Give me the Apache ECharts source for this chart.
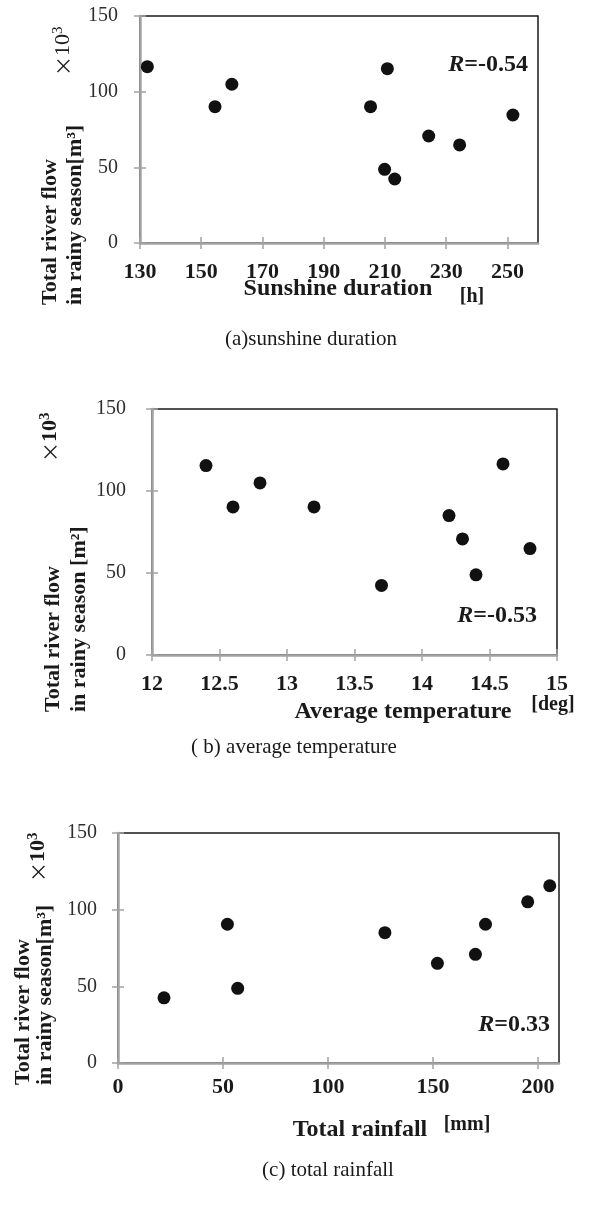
<!DOCTYPE html>
<html><head><meta charset="utf-8">
<script src="https://cdn.jsdelivr.net/npm/echarts@6/dist/echarts.min.js"></script>
<style>html,body{margin:0;padding:0;background:#fff}#c{width:597px;height:1207px}</style>
</head><body><div id="c"></div>
<script>
// Data
const flowTicks = [0, 50, 100, 150];
const sunTicks = [130, 150, 170, 190, 210, 230, 250];
const sunX = [132.4, 154.5, 160.0, 205.3, 209.9, 210.8, 213.2, 224.3, 234.4, 251.8];
const sunY = [116.5, 90.1, 104.9, 90.1, 48.7, 115.2, 42.3, 70.7, 64.8, 84.6];
const tempTicks = [12, 12.5, 13, 13.5, 14, 14.5, 15];
const tempX = [12.4, 12.6, 12.8, 13.2, 13.7, 14.2, 14.3, 14.4, 14.6, 14.8];
const tempY = [115.5, 90.3, 104.9, 90.3, 42.4, 85.0, 70.8, 48.9, 116.5, 64.9];
const rainTicks = [0, 50, 100, 150, 200];
const rainX = [21.9, 52.1, 57.0, 127.1, 152.1, 170.2, 175.0, 195.1, 205.6];
const rainY = [42.5, 90.5, 48.7, 85.0, 65.0, 70.9, 90.5, 105.1, 115.6];
const rValues = ['-0.54', '-0.53', '0.33'];

const FONT = "'Liberation Serif', 'Times New Roman', serif";
const CJK = "'Noto Sans CJK JP', sans-serif";
const GREY = '#a3a3a3';

const panels = [
  {grid:{left:140, top:16, width:398, height:227}, xMin:130, xMax:260, xTicks:sunTicks, xs:sunX, ys:sunY, xLabelMargin:18, yLabelMargin:22},
  {grid:{left:152, top:409, width:405, height:246}, xMin:12, xMax:15, xTicks:tempTicks, xs:tempX, ys:tempY, xLabelMargin:18, yLabelMargin:26},
  {grid:{left:118, top:833, width:441, height:230}, xMin:0, xMax:210, xTicks:rainTicks, xs:rainX, ys:rainY, xLabelMargin:13, yLabelMargin:21}
];

const grids = [], xAxes = [], yAxes = [], series = [];
panels.forEach((p, i) => {
  grids.push(Object.assign({show:true, borderColor:'#1a1a1a', borderWidth:1.5, backgroundColor:'transparent', containLabel:false}, p.grid));
  xAxes.push({type:'value', gridIndex:i, min:p.xMin, max:p.xMax, position:'bottom',
    axisLine:{show:true, onZero:false, lineStyle:{color:GREY, width:2.5}},
    axisTick:{show:true, length:6, customValues:p.xTicks, lineStyle:{color:GREY, width:1.5}},
    axisLabel:{show:true, customValues:p.xTicks, margin:p.xLabelMargin, color:'#1a1a1a', fontFamily:FONT, fontWeight:'bold', fontSize:22},
    splitLine:{show:false}});
  xAxes.push({type:'value', gridIndex:i, min:p.xMin, max:p.xMax, position:'bottom',
    axisLine:{show:false, onZero:false},
    axisTick:{show:true, inside:true, length:6, customValues:p.xTicks, lineStyle:{color:GREY, width:1.5}},
    axisLabel:{show:false}, splitLine:{show:false}});
  yAxes.push({type:'value', gridIndex:i, min:0, max:150, position:'left',
    axisLine:{show:true, onZero:false, lineStyle:{color:GREY, width:2.5}},
    axisTick:{show:true, length:6, customValues:flowTicks, lineStyle:{color:GREY, width:1.5}},
    axisLabel:{show:true, customValues:flowTicks, margin:p.yLabelMargin, color:'#2e2e2e', fontFamily:FONT, fontSize:20},
    splitLine:{show:false}});
  yAxes.push({type:'value', gridIndex:i, min:0, max:150, position:'left',
    axisLine:{show:false, onZero:false},
    axisTick:{show:true, inside:true, length:6, customValues:flowTicks, lineStyle:{color:GREY, width:1.5}},
    axisLabel:{show:false}, splitLine:{show:false}});
  series.push({type:'scatter', xAxisIndex:i*2, yAxisIndex:i*2, symbol:'circle', symbolSize:13,
    itemStyle:{color:'#111', opacity:1}, silent:true, animation:false,
    data:p.xs.map((x, k) => [x, p.ys[k]])});
});

function txt(text, x, y, size, opts) {
  opts = opts || {};
  return {type:'text', x:x, y:y, rotation:opts.rot || 0, silent:true,
    style:{text:text, x:0, y:0, fontFamily:FONT, fontSize:size, fontWeight:opts.weight || 'normal', fontStyle:opts.style || 'normal',
      fill:opts.color || '#1a1a1a', textAlign:opts.align || 'center', align:opts.align || 'center',
      textVerticalAlign:'middle', verticalAlign:'middle', rich:opts.rich}};
}
const R90 = Math.PI / 2;
const rRich = {i:{fontFamily:FONT, fontSize:24, fontWeight:'bold', fontStyle:'italic', fill:'#1a1a1a'},
               b:{fontFamily:FONT, fontSize:24, fontWeight:'bold', fill:'#1a1a1a'}};
function expRich(w) {
  return {x:{fontFamily:CJK, fontSize:20, fontWeight:'normal', fill:'#1a1a1a', lineHeight:24},
          a:{fontFamily:FONT, fontSize:22, fontWeight:w, fill:'#1a1a1a', lineHeight:24},
          s:{fontFamily:FONT, fontSize:15, fontWeight:w, fill:'#1a1a1a', lineHeight:15, verticalAlign:'top'}};
}
const graphics = [
  // panel (a)
  txt('Total river flow', 50, 305, 22, {weight:'bold', rot:R90, align:'left'}),
  txt('in rainy season[m³]', 75, 305, 22, {weight:'bold', rot:R90, align:'left'}),
  txt('{x|×}{a|10}{s|3}', 63, 76, 22, {rot:R90, align:'left', rich:expRich('normal')}),
  txt('Sunshine duration', 338, 289, 24, {weight:'bold'}),
  txt('[h]', 472, 297, 20, {weight:'bold'}),
  txt('(a)sunshine duration', 311, 339, 21),
  txt('{i|R}{b|=' + rValues[0] + '}', 528, 65, 24, {align:'right', rich:rRich}),
  // panel (b)
  txt('Total river flow', 53, 712, 22, {weight:'bold', rot:R90, align:'left'}),
  txt('in rainy season [m²]', 79, 712, 22, {weight:'bold', rot:R90, align:'left'}),
  txt('{x|×}{a|10}{s|3}', 50, 462, 22, {rot:R90, align:'left', rich:expRich('bold')}),
  txt('Average temperature', 403, 712, 24, {weight:'bold'}),
  txt('[deg]', 553, 705, 20, {weight:'bold'}),
  txt('( b) average temperature', 294, 747, 21),
  txt('{i|R}{b|=' + rValues[1] + '}', 537, 616, 24, {align:'right', rich:rRich}),
  // panel (c)
  txt('Total river flow', 23, 1085, 22, {weight:'bold', rot:R90, align:'left'}),
  txt('in rainy season[m³]', 45, 1085, 22, {weight:'bold', rot:R90, align:'left'}),
  txt('{x|×}{a|10}{s|3}', 38, 882, 22, {rot:R90, align:'left', rich:expRich('bold')}),
  txt('Total rainfall', 360, 1130, 24, {weight:'bold'}),
  txt('[mm]', 467, 1125, 20, {weight:'bold'}),
  txt('(c) total rainfall', 328, 1170, 21),
  txt('{i|R}{b|=' + rValues[2] + '}', 550, 1025, 24, {align:'right', rich:rRich})
];

const chart = echarts.init(document.getElementById('c'), null, {renderer:'canvas'});
chart.setOption({animation:false, backgroundColor:'#fff', grid:grids, xAxis:xAxes, yAxis:yAxes, series:series, graphic:graphics});
</script></body></html>
